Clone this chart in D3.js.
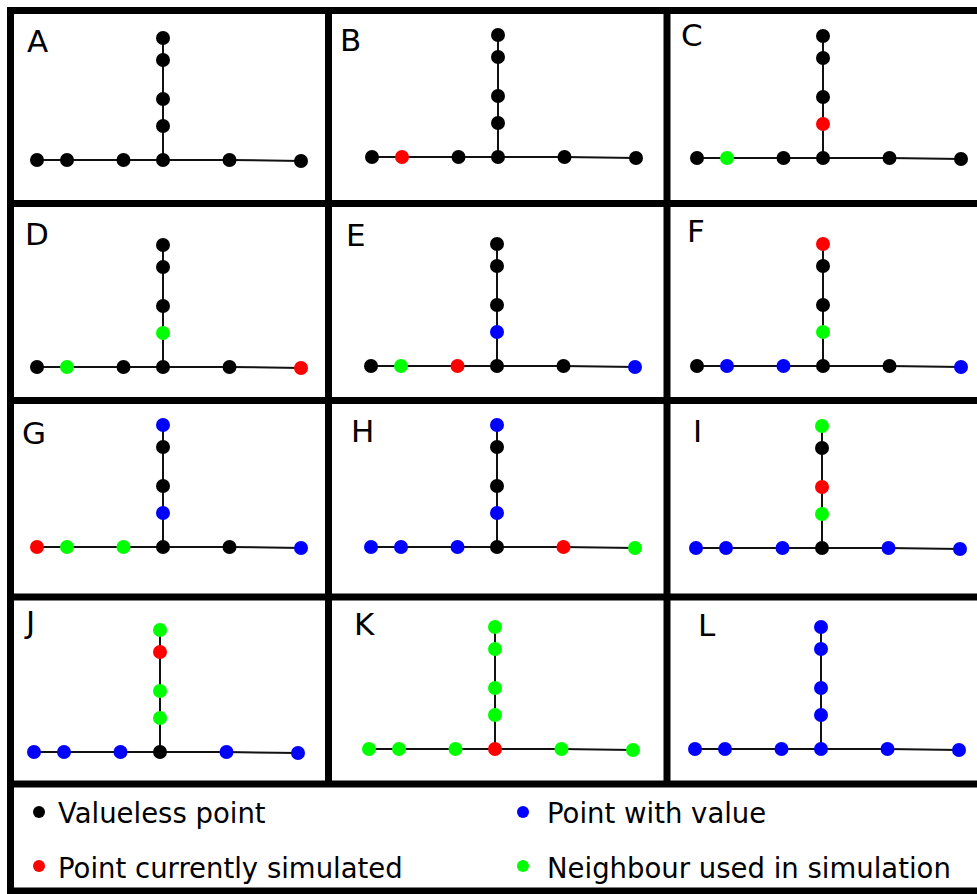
<!DOCTYPE html>
<html>
<head>
<meta charset="utf-8">
<script src="https://cdn.jsdelivr.net/npm/d3@7"></script>
<style>
  body { margin: 0; background: #fff; }
  svg { display: block; }
  text { font-family: "DejaVu Sans", sans-serif; fill: #000; }
</style>
</head>
<body>
<svg id="chart" width="977" height="894"></svg>
<script>
// panel letters, read row by row
const panelLabels = ["A", "B", "C", "D", "E", "F", "G", "H", "I", "J", "K", "L"];

// graph template: distance of each point along the horizontal line,
// and height of each point on the vertical branch (top to bottom)
const hPoints = [0, 30, 86.5, 126, 192.5, 264];
const hDrop = [0, 0, 0, 0, 0, 1];
const vPoints = [122, 100, 61, 34];

// state of every point per panel: k valueless, b has value, r simulated, g neighbour
const hStates = [
  "kkkkkk", "krkkkk", "kgkkkk",
  "kgkkkr", "kgrkkb", "kbbkkb",
  "rggkkb", "bbbkrg", "bbbkbb",
  "bbbkbb", "gggrgg", "bbbbbb"
];
const vStates = [
  "kkkk", "kkkk", "kkkr",
  "kkkg", "kkkb", "rkkg",
  "bkkb", "bkkb", "gkrg",
  "grgg", "gggg", "bbbb"
];

const stateKeys = ["k", "b", "r", "g"];
const legendLabels = ["Valueless point", "Point with value", "Point currently simulated", "Neighbour used in simulation"];

const color = d3.scaleOrdinal()
  .domain(stateKeys)
  .range(["#000000", "#0000ff", "#ff0000", "#00ff00"]);

const svg = d3.select("#chart");

// where each little graph sits (x of first point, y of the horizontal line)
const anchors = [
  [37, 160], [372, 157], [697, 158],
  [37, 367], [371, 366], [697, 366],
  [37, 547], [371, 547], [696, 548],
  [34, 752], [369, 749], [695, 749]
];
const labelAt = [
  [27, 52], [340, 51], [681, 46],
  [25, 245], [346, 246], [687, 242],
  [22, 444], [351, 442], [693, 442],
  [26, 633], [354, 635], [698, 636]
];

const R = 7;

panelLabels.forEach((lab, i) => {
  const [ax, ay] = anchors[i];
  const x = d3.scaleLinear().domain([0, 1]).range([ax, ax + 1]);
  const y = d3.scaleLinear().domain([0, 1]).range([ay, ay - 1]);
  const jx = x(hPoints[3]);

  const g = svg.append("g").attr("class", "panel");

  const hNodes = hPoints.map((d, k) => ({ cx: x(d), cy: y(-hDrop[k]), s: hStates[i][k] }));
  const vNodes = vPoints.map((d, k) => ({ cx: jx, cy: y(d), s: vStates[i][k] }));

  g.append("path")
    .attr("d", d3.line().x(d => d.cx).y(d => d.cy)(hNodes))
    .attr("fill", "none").attr("stroke", "#111").attr("stroke-width", 2);
  g.append("line")
    .attr("x1", jx).attr("x2", jx)
    .attr("y1", vNodes[0].cy).attr("y2", y(0))
    .attr("stroke", "#111").attr("stroke-width", 2);

  g.selectAll("circle")
    .data(hNodes.concat(vNodes))
    .join("circle")
    .attr("cx", d => d.cx)
    .attr("cy", d => d.cy)
    .attr("r", R)
    .attr("fill", d => color(d.s));

  g.append("text")
    .attr("x", labelAt[i][0]).attr("y", labelAt[i][1])
    .attr("font-size", 31)
    .text(lab);
});

// frame lines
const hLines = [10.5, 203.5, 400.5, 597, 784, 891];
const vLines = [[10.5, 894], [328.5, 784], [667, 784]];
svg.selectAll("line.hf").data(hLines).join("line").attr("class", "hf")
  .attr("x1", 7).attr("x2", 977).attr("y1", d => d).attr("y2", d => d)
  .attr("stroke", "#000").attr("stroke-width", 7);
svg.selectAll("line.vf").data(vLines).join("line").attr("class", "vf")
  .attr("x1", d => d[0]).attr("x2", d => d[0]).attr("y1", 7).attr("y2", d => d[1])
  .attr("stroke", "#000").attr("stroke-width", 7);

// legend, two columns by two rows
const dotX = [39, 523], textX = [58, 547];
const dotY = [812, 866], textY = [823, 878];
const leg = svg.append("g").selectAll("g")
  .data(legendLabels)
  .join("g");
leg.append("circle")
  .attr("cx", (d, k) => dotX[k % 2])
  .attr("cy", (d, k) => dotY[Math.floor(k / 2)])
  .attr("r", 6)
  .attr("fill", (d, k) => color(stateKeys[k]));
leg.append("text")
  .attr("x", (d, k) => textX[k % 2])
  .attr("y", (d, k) => textY[Math.floor(k / 2)])
  .attr("font-size", 27.5)
  .text(d => d);
</script>
</body>
</html>
